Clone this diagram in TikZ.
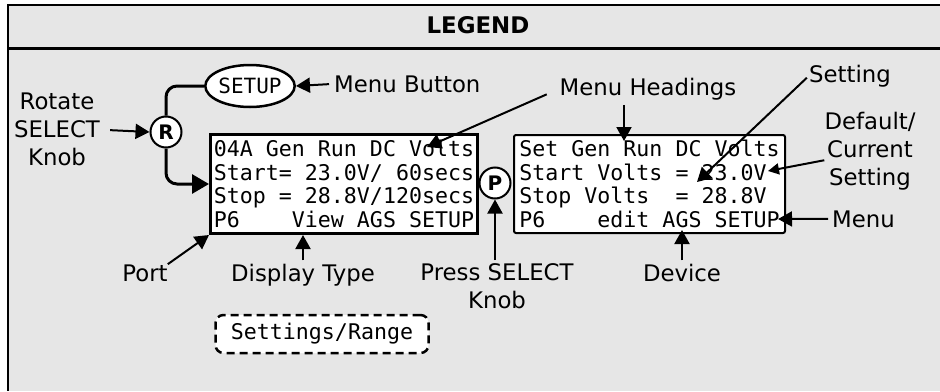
\documentclass[tikz,border=0pt]{standalone}
\usepackage{fontspec}
\setmainfont{DejaVu Sans}
\setmonofont{DejaVu Sans Mono}
\usetikzlibrary{arrows.meta,positioning,shapes.geometric}
\definecolor{PanelGray}{HTML}{E6E6E6}
\tikzset{
  lcdbox/.style={
    rectangle, draw=black, fill=white, align=left, inner sep=0pt,
    font=\fontsize{21.6}{23.5}\selectfont\ttfamily
  },
  knob/.style={circle, draw=black, fill=white, line width=2pt, inner sep=0pt, minimum size=31pt, font=\fontsize{20}{20}\selectfont\bfseries},
  lbl/.style={font=\fontsize{22.8}{28}\selectfont, align=center, inner sep=0pt},
  callout/.style={-{Triangle[length=14pt,width=15pt]}, line width=2pt},
  wire/.style={line width=3pt, rounded corners=11pt},
  rangebox/.style={rectangle, rounded corners=8pt, draw=black, fill=white, line width=2.5pt, dash pattern=on 8pt off 5pt, minimum width=213pt, minimum height=38pt, font=\fontsize{21.6}{21.6}\selectfont\ttfamily},
}
\begin{document}
\begin{tikzpicture}[x=1pt,y=-1pt]
    \useasboundingbox (0,0) rectangle (940,391);
    \fill[PanelGray] (8,5) rectangle (940,391);
    \draw[line width=2.5pt] (940,5) -- (8,5) -- (8,391);
    \draw[line width=2.5pt] (8,48.5) -- (940,48.5);
    \node[font=\fontsize{22.9}{22.9}\selectfont\bfseries, anchor=base] (title) at (478,33) {LEGEND};
    % displays
    \node[lcdbox, line width=3pt, minimum width=267pt, minimum height=99pt, anchor=north west] (view) at (209,133)
      {04A Gen Run DC Volts\\Start= 23.0V/ 60secs\\Stop = 28.8V/120secs\\P6~~~~View AGS SETUP};
    \node[lcdbox, line width=2pt, rounded corners=2pt, minimum width=271pt, minimum height=98pt, anchor=north west] (edit) at (513,134)
      {Set Gen Run DC Volts\\Start Volts = 23.0V\\Stop Volts~~= 28.8V\\P6~~~~edit AGS SETUP};
    % knobs and button
    \node[ellipse, draw=black, fill=white, line width=2.5pt, inner sep=0pt, minimum width=73pt, minimum height=42pt, font=\fontsize{21}{21}\selectfont\ttfamily] (setup) at (250,86) {SETUP};
    \node[knob] (rot) at (166,132) {R};
    \node[knob] (press) at (495,183) {P};
    \draw[wire] (setup.west) -| (rot.north);
    \draw[wire, -{Triangle[length=17pt,width=19pt]}] (rot.south) |- (view.west);
    % labels
    \node[lbl, anchor=north] (rotlbl) at (57,93) {Rotate\\SELECT\\Knob};
    \node[lbl, anchor=base west] (menubtn) at (334,92) {Menu Button};
    \node[lbl, anchor=base] (headings) at (648,95) {Menu Headings};
    \node[lbl, anchor=base] (setting) at (850,82) {Setting};
    \node[lbl, anchor=north] (current) at (870,112) {Default/\\Current\\Setting};
    \node[lbl, anchor=base west] (menu) at (832,227) {Menu};
    \node[lbl, anchor=base] (port) at (145,281) {Port};
    \node[lbl, anchor=base] (disptype) at (303,281) {Display Type};
    \node[lbl, anchor=north] (presslbl) at (497,263) {Press SELECT\\Knob};
    \node[lbl, anchor=base] (device) at (682,281) {Device};
    \node[rangebox] (range) at (322,334) {Settings/Range};
    \coordinate (hdview) at (427,147);
    \coordinate (hdedit) at (624,141);
    \coordinate (setedit) at (697,182);
    \coordinate (curedit) at (768,171);
    \coordinate (menuedit) at (778,219);
    % callouts
    \draw[callout, shorten <=10pt] (rotlbl.east) -- (rot.west);
    \draw[callout, shorten <=5pt] (menubtn.west) -- (setup.east);
    \draw[callout, shorten <=14pt] (headings.west) -- (hdview);
    \draw[callout, shorten <=5pt] (headings.south -| hdedit) -- (hdedit);
    \draw[callout, shorten <=3pt] (setting.west) -- (setedit);
    \draw[callout, -{Triangle[length=11pt,width=11pt]}] ([yshift=-9pt]current.west) -- (curedit);
    \draw[callout, shorten <=4pt] (menu.west) -- (menuedit);
    \draw[callout] (port.north east) -- (view.south west);
    \draw[callout, shorten <=3pt] (disptype.north) -- (disptype.north |- view.south);
    \draw[callout, shorten <=3pt] (presslbl.north -| press) -- (press.south);
    \draw[callout, shorten <=3pt, shorten >=-4pt] (device.north) -- (device.north |- edit.south);
\end{tikzpicture}
\end{document}
